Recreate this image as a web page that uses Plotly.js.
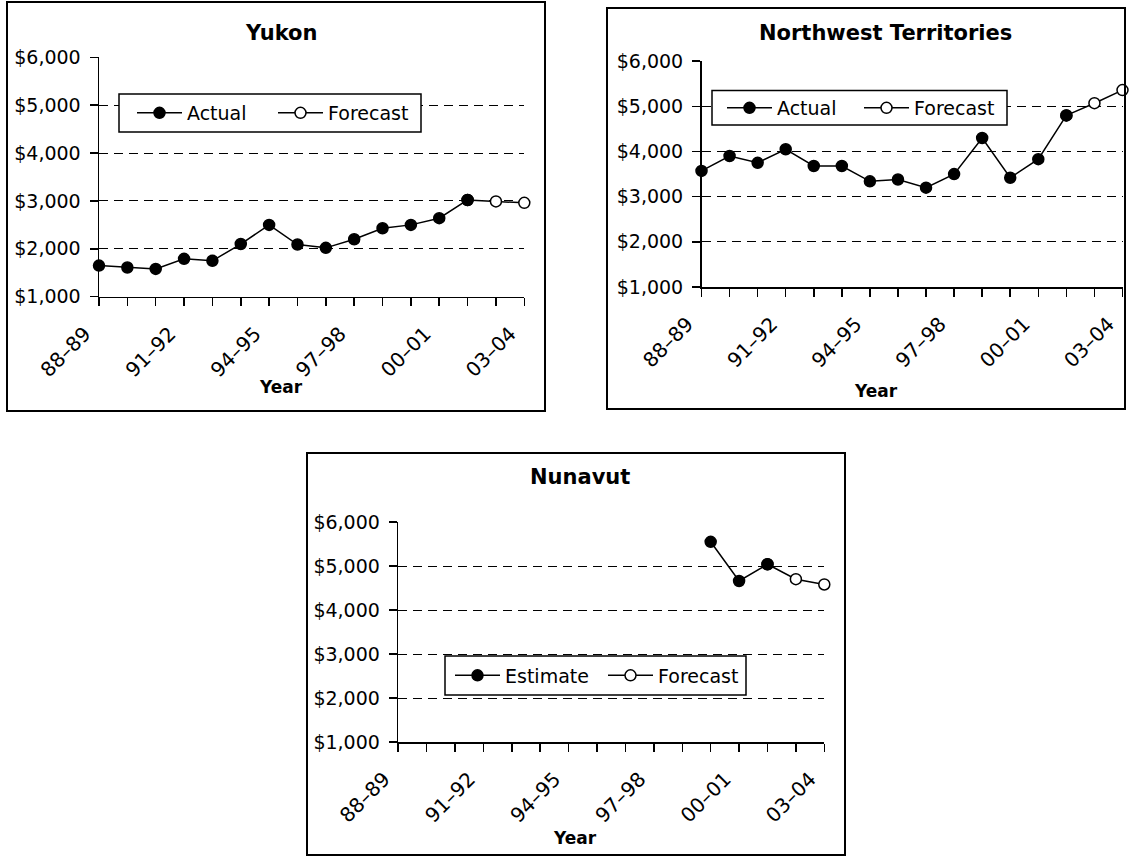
<!DOCTYPE html>
<html>
<head>
<meta charset="utf-8">
<script src="https://cdn.plot.ly/plotly-3.0.1.min.js"></script>
<style>html,body{margin:0;padding:0;background:#fff;}#chart{width:1135px;height:857px;}</style>
</head>
<body>
<div id="chart"></div>
<script>
// ---- data ----
const years = ['88–89','89–90','90–91','91–92','92–93','93–94','94–95','95–96','96–97','97–98','98–99','99–00','00–01','01–02','02–03','03–04'];
const labeledYears = ['88–89','91–92','94–95','97–98','00–01','03–04'];
const yTicks = [1000, 2000, 3000, 4000, 5000, 6000];
const yTickLabels = ['$1,000', '$2,000', '$3,000', '$4,000', '$5,000', '$6,000'];

const yukonActualYears = years.slice(0, 14);
const yukonActual = [1650, 1610, 1580, 1790, 1750, 2100, 2500, 2090, 2020, 2200, 2430, 2500, 2640, 3020];
const yukonForecastYears = ['02–03', '03–04'];
const yukonForecast = [2990, 2960];

const nwtActualYears = years.slice(0, 14);
const nwtActual = [3570, 3900, 3750, 4050, 3680, 3680, 3340, 3380, 3200, 3500, 4300, 3420, 3830, 4800];
const nwtForecastYears = ['02–03', '03–04'];
const nwtForecast = [5070, 5360];

const nunEstimateYears = ['99–00', '00–01', '01–02'];
const nunEstimate = [5550, 4660, 5040];
const nunForecastYears = ['02–03', '03–04'];
const nunForecast = [4700, 4580];

const panelTitles = ['Yukon', 'Northwest Territories', 'Nunavut'];

// ---- helpers ----
const W = 1135, H = 857;
const FONT = 'DejaVu Sans';
const px = x => x / W;
const py = y => 1 - y / H;

function xAxis(x0, x1, anchor) {
  return {
    domain: [px(x0), px(x1)], anchor: anchor,
    type: 'category', categoryorder: 'array', categoryarray: years,
    range: [0, years.length - 1],
    tickmode: 'array', tickvals: years,
    ticktext: years.map(y => labeledYears.includes(y) ? y : ''),
    tickangle: -45, ticks: 'outside', ticklen: 8, tickwidth: 1.5, tickcolor: '#000',
    ticklabelstandoff: 8, ticklabelshift: -14,
    showline: true, linecolor: '#000', linewidth: 1.5,
    showgrid: false, zeroline: false, fixedrange: true,
    tickfont: {family: FONT, size: 20, color: '#000'}
  };
}
function yAxis(y0, y1, anchor) {
  return {
    domain: [py(y1), py(y0)], anchor: anchor,
    range: [1000, 6000], tickmode: 'array', tickvals: yTicks, ticktext: yTickLabels,
    ticks: 'outside', ticklen: 8, tickwidth: 1.5, tickcolor: '#000',
    ticklabelstandoff: 5,
    showline: true, linecolor: '#000', linewidth: 1.5,
    showgrid: true, gridcolor: '#000', gridwidth: 1, griddash: '9px,6px',
    zeroline: false, fixedrange: true,
    tickfont: {family: FONT, size: 19, color: '#000'}
  };
}

function series(xs, ys, name, xa, ya, leg, filled, rank) {
  return {
    type: 'scatter', mode: 'lines+markers', x: xs, y: ys, name: name,
    xaxis: xa, yaxis: ya, legend: leg, legendrank: rank, cliponaxis: false,
    line: {color: '#000', width: 1.5},
    marker: {size: 11, color: filled ? '#000' : '#fff', line: {color: '#000', width: 1.5}},
    hoverinfo: 'x+y'
  };
}

const data = [
  // Yukon
  series(yukonActualYears.slice(-1).concat(yukonForecastYears), yukonActual.slice(-1).concat(yukonForecast), 'Forecast', 'x', 'y', 'legend', false, 2),
  series(yukonActualYears, yukonActual, 'Actual', 'x', 'y', 'legend', true, 1),
  // NWT
  series(nwtActualYears.slice(-1).concat(nwtForecastYears), nwtActual.slice(-1).concat(nwtForecast), 'Forecast', 'x2', 'y2', 'legend2', false, 2),
  series(nwtActualYears, nwtActual, 'Actual', 'x2', 'y2', 'legend2', true, 1),
  // Nunavut
  series(nunEstimateYears.slice(-1).concat(nunForecastYears), nunEstimate.slice(-1).concat(nunForecast), 'Forecast', 'x3', 'y3', 'legend3', false, 2),
  series(nunEstimateYears, nunEstimate, 'Estimate', 'x3', 'y3', 'legend3', true, 1)
];

function box(x0, y0, x1, y1, w, fill) {
  return {type: 'rect', xref: 'paper', yref: 'paper', x0: px(x0), x1: px(x1), y0: py(y1), y1: py(y0),
          line: {color: '#000', width: w}, fillcolor: fill || 'rgba(0,0,0,0)', layer: 'above'};
}
function legendCfg(x, yMid, entry) {
  return {x: px(x), y: py(yMid), xanchor: 'left', yanchor: 'middle', orientation: 'h',
          bgcolor: 'rgba(0,0,0,0)', borderwidth: 0, entrywidth: entry, entrywidthmode: 'pixels',
          itemwidth: 45,
          font: {family: FONT, size: 19, color: '#000'}};
}
function ann(text, x, y, size) {
  return {text: '<b>' + text + '</b>', xref: 'paper', yref: 'paper', x: px(x), y: py(y),
          xanchor: 'center', yanchor: 'middle', showarrow: false,
          font: {family: FONT, size: size, color: '#000'}};
}

const layout = {
  width: W, height: H, margin: {l: 0, r: 0, t: 0, b: 0},
  paper_bgcolor: '#fff', plot_bgcolor: 'rgba(0,0,0,0)',
  showlegend: true,
  xaxis: xAxis(99, 524.3, 'y'), yaxis: yAxis(57.3, 296.7, 'x'),
  xaxis2: xAxis(701.5, 1122.5, 'y2'), yaxis2: yAxis(61.2, 287, 'x2'),
  xaxis3: xAxis(398.2, 824.3, 'y3'), yaxis3: yAxis(522, 742, 'x3'),
  legend: legendCfg(132, 113, 81),
  legend2: legendCfg(722, 108, 77),
  legend3: legendCfg(450, 675.5, 93),
  shapes: [
    box(7, 2, 545, 411, 2), box(607, 8, 1125, 409, 2), box(307, 453, 845, 855, 2),
    box(119, 94, 421, 132, 1.5, '#fff'), box(712, 90.5, 1007, 125, 1.5, '#fff'), box(445, 656, 746, 695, 1.5, '#fff')
  ],
  annotations: [
    ann(panelTitles[0], 281, 33, 21), ann(panelTitles[1], 885, 33, 21), ann(panelTitles[2], 580, 477, 21),
    ann('Year', 281, 387, 17), ann('Year', 876, 391, 17), ann('Year', 575, 838, 17)
  ]
};

Plotly.newPlot('chart', data, layout, {displayModeBar: false, staticPlot: true});
</script>
</body>
</html>
